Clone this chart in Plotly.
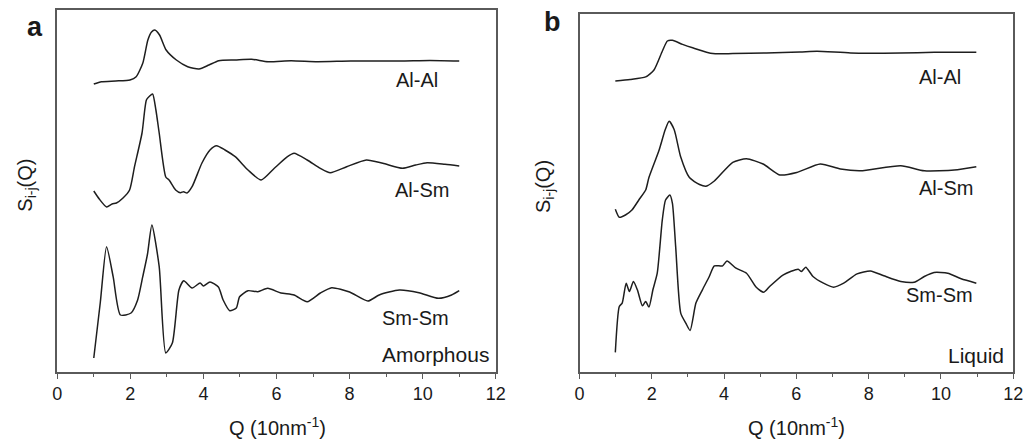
import plotly.graph_objects as go

# ---------------- data (y in arbitrary, offset units) ----------------
# Panel a (Amorphous)
a_alal_q = [1.0, 1.21, 1.6, 1.99, 2.16, 2.34, 2.48, 2.58, 2.67, 2.8, 2.98, 3.26, 3.57, 3.88,
            4.15, 4.42, 4.87, 5.32, 5.77, 6.4, 7.12, 8.03, 9.38, 10.2, 11.0]
a_alal_s = [288, 290.3, 291, 292, 295.3, 308.7, 332, 340, 342, 337, 322, 312, 305.3, 303,
            307, 311.3, 312, 312.7, 310.3, 311.3, 310.3, 311, 311, 311.5, 311]

a_alsm_q = [1.0, 1.15, 1.35, 1.5, 1.62, 1.8, 1.98, 2.115, 2.32, 2.44, 2.53, 2.61, 2.7, 2.79,
            2.97, 3.06, 3.24, 3.37, 3.46, 3.55, 3.69, 3.96, 4.18, 4.36, 4.59, 4.87, 5.22,
            5.58, 5.94, 6.3, 6.48, 6.84, 7.2, 7.47, 7.92, 8.46, 8.91, 9.45, 9.81, 10.12,
            10.61, 11.0]
a_alsm_s = [181, 173, 165, 168, 169, 174, 182, 205.3, 239, 272, 276, 278, 262, 239,
            195, 192, 182, 179.3, 180.3, 179, 185.3, 209, 222, 226.3, 222, 215.3, 202,
            192, 203.7, 215.3, 218.7, 212, 203.7, 199.3, 205.3, 212, 208.7, 203.7, 207, 209.3,
            207.7, 206]

a_smsm_q = [1.0, 1.18, 1.35, 1.53, 1.73, 2.02, 2.2, 2.34, 2.47, 2.59, 2.79, 2.97, 3.15, 3.33,
            3.46, 3.69, 3.91, 4.0, 4.18, 4.41, 4.54, 4.72, 4.9, 4.99, 5.22, 5.49, 5.76,
            6.12, 6.48, 6.84, 7.2, 7.51, 8.0, 8.5, 8.81, 9.36, 9.9, 10.43, 10.79, 11.0]
a_smsm_s = [14, 70, 125.3, 95.3, 57, 59, 72, 95.3, 118, 147, 105.3, 19, 29, 82,
            91.3, 84, 89, 86, 90, 85, 72, 61.3, 64, 75.3, 81.3, 80.3, 83.7,
            79, 77, 70.3, 79, 84.3, 80, 71, 77, 82, 79.3, 73.7, 77, 81.3]

# Panel b (Liquid)
b_alal_q = [0.99, 1.4, 1.83, 2.06, 2.29, 2.43, 2.57, 2.85, 3.13, 3.69, 4.24, 5.17, 6.1,
            6.57, 7.5, 8.89, 9.82, 10.98]
b_alal_s = [291, 292.5, 295.1, 302, 320.8, 331, 331.7, 327.6, 324.2, 318.4, 318.4, 319,
            320, 320.8, 319, 319, 319.7, 319.7]

b_alsm_q = [0.99, 1.1, 1.27, 1.45, 1.64, 1.83, 1.92, 2.2, 2.37, 2.48, 2.62, 2.8, 3.04,
            3.32, 3.5, 3.73, 4.24, 4.62, 5.08, 5.54, 6.01, 6.66, 7.22, 7.77, 8.89, 9.54,
            10.37, 10.98]
b_alsm_s = [162.7, 154.7, 157, 162, 172, 182, 194.4, 221.7, 242.2, 250.7, 242.2, 214.9,
            194.4, 187.5, 185.8, 191, 209.7, 213.2, 208, 197.1, 199.5, 208, 203, 201.2,
            206.3, 201.2, 201.9, 205.3]

b_smsm_q = [0.99, 1.1, 1.18, 1.29, 1.38, 1.49, 1.6, 1.74, 1.83, 1.92, 2.03, 2.15, 2.29,
            2.38, 2.5, 2.57, 2.66, 2.8, 2.94, 3.06, 3.22, 3.4, 3.59, 3.73, 3.96, 4.08,
            4.33, 4.62, 4.89, 5.1, 5.26, 5.64, 6.05, 6.14, 6.26, 6.46, 6.75, 7.03, 7.31,
            7.68, 8.05, 8.42, 8.89, 9.26, 9.54, 9.81, 10.19, 10.56, 10.98]
b_smsm_s = [19.6, 65.5, 68.9, 88.8, 80.5, 90.5, 82.2, 66.2, 70.5, 64.9, 82.2, 98.8, 152.1,
            172, 177, 168.7, 125.4, 58.9, 48.9, 41.6, 68.9, 82.2, 95.5, 106.1, 106.1, 111.1,
            103.8, 98.8, 84.8, 79.8, 85.5, 97.2, 102.8, 100.5, 104.8, 95.5, 88.8, 84.8, 88.8,
            98.1, 101.1, 96.2, 90.5, 89.8, 95.5, 99.5, 98.8, 93.2, 88.8]

curve_names = ["Al-Al", "Al-Sm", "Sm-Sm"]
x_ticks = [0, 2, 4, 6, 8, 10, 12]

# ---------------- figure ----------------
W, H = 1035, 443
def px(x):
    return x / W
def py(y):
    return 1 - y / H

LINE = "#1e1e1e"
FRAME = "#5a5a5a"
TXT = "#1a1a1a"
FONT = "Arial, Liberation Sans, sans-serif"

fig = go.Figure()
panel_a = [(a_alal_q, a_alal_s), (a_alsm_q, a_alsm_s), (a_smsm_q, a_smsm_s)]
panel_b = [(b_alal_q, b_alal_s), (b_alsm_q, b_alsm_s), (b_smsm_q, b_smsm_s)]
for name, (q, s) in zip(curve_names, panel_a):
    fig.add_trace(go.Scatter(x=q, y=s, mode="lines", name=name,
                             line=dict(color=LINE, width=1.5, shape="spline", smoothing=0.6),
                             xaxis="x", yaxis="y"))
for name, (q, s) in zip(curve_names, panel_b):
    fig.add_trace(go.Scatter(x=q, y=s, mode="lines", name=name,
                             line=dict(color=LINE, width=1.5, shape="spline", smoothing=0.6),
                             xaxis="x2", yaxis="y2"))

xcommon = dict(range=[0, 12], tickmode="array", tickvals=x_ticks,
               ticktext=[str(t) for t in x_ticks], ticks="outside", ticklen=5,
               tickwidth=1.3, tickcolor=FRAME, showline=True, linecolor=FRAME,
               linewidth=1.5, mirror=True, showgrid=False, zeroline=False,
               tickfont=dict(family=FONT, size=18, color=TXT),
               minor=dict(ticks="outside", ticklen=3, tickwidth=1.2,
                          tickcolor=FRAME, dtick=1, tick0=0, showgrid=False))
ycommon = dict(showticklabels=False, ticks="", showline=True, linecolor=FRAME,
               linewidth=1.5, mirror=True, showgrid=False, zeroline=False)

fig.update_layout(
    width=W, height=H,
    margin=dict(l=0, r=0, t=0, b=0),
    paper_bgcolor="white", plot_bgcolor="white",
    showlegend=False,
    xaxis=dict(domain=[px(53), px(498)], anchor="y", **xcommon),
    yaxis=dict(domain=[py(372), py(10)], range=[0, 362], anchor="x", **ycommon),
    xaxis2=dict(domain=[px(583), px(1023)], anchor="y2", **xcommon),
    yaxis2=dict(domain=[py(372), py(14)], range=[0, 358], anchor="x2", **ycommon),
)

def ann(text, x, y, size, xanchor="center", bold=False, angle=0):
    fig.add_annotation(text=f"<b>{text}</b>" if bold else text,
                       x=px(x), y=py(y), xref="paper", yref="paper",
                       xanchor=xanchor, yanchor="middle", showarrow=False,
                       textangle=angle,
                       font=dict(family=FONT, size=size, color=TXT))

# panel letters
ann("a", 30, 27, 27, bold=True)
ann("b", 556, 22, 27, bold=True)

# curve labels, panel a
ann("Al-Al", 441, 80, 20, xanchor="right")
ann("Al-Sm", 453, 190, 20, xanchor="right")
ann("Sm-Sm", 453, 318, 20, xanchor="right")
ann("Amorphous", 493, 354, 21, xanchor="right")
# curve labels, panel b
ann("Al-Al", 972, 77, 20, xanchor="right")
ann("Al-Sm", 984, 188, 20, xanchor="right")
ann("Sm-Sm", 984, 295, 20, xanchor="right")
ann("Liquid", 1016, 355, 21, xanchor="right")

# axis titles
ann("Q (10nm<sup>-1</sup>)", 276, 426, 20)
ann("Q (10nm<sup>-1</sup>)", 803, 426, 20)
ann("S<sub>i-j</sub>(Q)", 21, 185, 20, angle=-90)
ann("S<sub>i-j</sub>(Q)", 548, 187, 20, angle=-90)

fig.write_html("out.html",
               config={"displayModeBar": False},
               post_script="document.body.style.margin='0';document.body.style.padding='0';")
